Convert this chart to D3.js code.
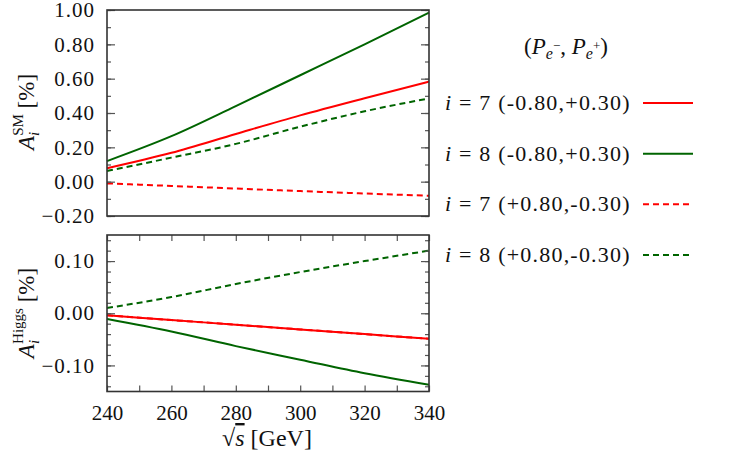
<!DOCTYPE html>
<html>
<head>
<meta charset="utf-8">
<script src="https://cdn.jsdelivr.net/npm/d3@7"></script>
<style>
  body { margin: 0; background: #fff; }
  svg text { font-family: "Liberation Serif", "Times New Roman", "DejaVu Serif", serif !important; }
</style>
</head>
<body>
<div id="chart"></div>
<script>
// sqrt(s) in GeV
let energies = [240, 260, 280, 300, 320, 340];

// A_i^SM [%]
let smI7Minus = [0.078, 0.168, 0.278, 0.386, 0.486, 0.583];   // i=7 (-0.80,+0.30)
let smI8Minus = [0.12, 0.265, 0.44, 0.62, 0.80, 0.985];       // i=8 (-0.80,+0.30)
let smI7Plus  = [-0.01, -0.025, -0.04, -0.055, -0.069, -0.082]; // i=7 (+0.80,-0.30)
let smI8Plus  = [0.062, 0.14, 0.22, 0.32, 0.41, 0.485];       // i=8 (+0.80,-0.30)

// A_i^Higgs [%]
let hI7Minus = [-0.004, -0.013, -0.022, -0.031, -0.040, -0.049];
let hI8Minus = [-0.011, -0.035, -0.063, -0.089, -0.115, -0.137];
let hI7Plus  = [-0.004, -0.013, -0.022, -0.031, -0.040, -0.049];
let hI8Plus  = [0.01, 0.031, 0.056, 0.079, 0.10, 0.12];

let legendLabels = ["(-0.80,+0.30)", "(-0.80,+0.30)", "(+0.80,-0.30)", "(+0.80,-0.30)"];
let legendIndex = [7, 8, 7, 8];

let xTicks = [240, 260, 280, 300, 320, 340];
let smTicks = [-0.2, 0, 0.2, 0.4, 0.6, 0.8, 1.0];
let hTicks = [-0.1, 0, 0.1];

let width = 750, height = 450;
let left = 107, right = 429;
let red = "#ff0000", green = "#006400";

let svg = d3.select("#chart").append("svg")
  .attr("width", width).attr("height", height);

let x = d3.scaleLinear().domain([240, 340]).range([left, right]);
let ySM = d3.scaleLinear().domain([-0.2, 1.0]).range([216, 10]);
let yH = d3.scaleLinear().domain([-0.15, 0.15]).range([391.5, 235]);

// drawn in this order; legend uses legendOrder
let series = [
  { color: red, dash: "6,4", sm: smI7Plus, h: hI7Plus },
  { color: green, dash: null, sm: smI8Minus, h: hI8Minus },
  { color: red, dash: null, sm: smI7Minus, h: hI7Minus },
  { color: green, dash: "6,4", sm: smI8Plus, h: hI8Plus }
];
let legendOrder = [2, 1, 0, 3];

function drawPanel(y, key, major, minorStep, withX) {
  let g = svg.append("g");
  let [y0, y1] = y.domain();
  let minor = d3.range(Math.ceil(y0 / minorStep - 1e-6), Math.floor(y1 / minorStep + 1e-6) + 1).map(k => k * minorStep);

  let line = d3.line().x((d, i) => x(energies[i])).y(d => y(d)).curve(d3.curveMonotoneX);
  g.selectAll("path.series")
    .data(series)
    .enter().append("path")
    .attr("class", "series")
    .attr("d", d => line(d[key]))
    .attr("fill", "none")
    .attr("stroke", d => d.color)
    .attr("stroke-width", 2)
    .attr("stroke-dasharray", d => d.dash);

  g.append("g").attr("transform", `translate(${left},0)`)
    .call(d3.axisLeft(y).tickValues(minor).tickSize(-4).tickFormat(""));
  g.append("g").attr("transform", `translate(${right},0)`)
    .call(d3.axisRight(y).tickValues(minor).tickSize(-4).tickFormat(""));
  g.append("g").attr("class", "ylabels").attr("transform", `translate(${left},0)`)
    .call(d3.axisLeft(y).tickValues(major).tickSize(-8).tickPadding(12).tickFormat(d3.format(".2f")));
  g.append("g").attr("transform", `translate(${right},0)`)
    .call(d3.axisRight(y).tickValues(major).tickSize(-8).tickFormat(""));

  if (withX) {
    let xmin = d3.range(240, 341, 10);
    g.append("g").attr("transform", `translate(0,${y.range()[0]})`)
      .call(d3.axisBottom(x).tickValues(xmin).tickSize(-6).tickPadding(14)
        .tickFormat(d => xTicks.includes(d) ? d : ""));
    g.append("g").attr("transform", `translate(0,${y.range()[1]})`)
      .call(d3.axisTop(x).tickValues(xmin).tickSize(-6).tickFormat(""));
  }

  g.selectAll(".domain").attr("stroke", "none");
  g.selectAll(".tick line").attr("stroke", "#555").attr("stroke-width", 1.2);
  g.selectAll(".tick text").attr("fill", "#111").attr("font-size", 21);
  g.selectAll(".ylabels .tick text").attr("letter-spacing", 1);

  g.append("rect")
    .attr("x", left).attr("y", y.range()[1])
    .attr("width", right - left).attr("height", y.range()[0] - y.range()[1])
    .attr("fill", "none").attr("stroke", "#333").attr("stroke-width", 1.6);
  return g;
}

drawPanel(ySM, "sm", smTicks, 0.1, false);
drawPanel(yH, "h", hTicks, 0.02, true);

// y axis titles
function yTitle(cx, cy, sup) {
  let t = svg.append("text")
    .attr("transform", `translate(${cx},${cy}) rotate(-90)`)
    .attr("text-anchor", "middle")
    .attr("font-size", 23).attr("fill", "#111");
  t.append("tspan").style("font-style", "italic").text("A");
  t.append("tspan").style("font-style", "italic").attr("font-size", 15).attr("dy", 5).text("i");
  t.append("tspan").attr("font-size", 15).attr("dx", -4).attr("dy", -16).text(sup);
  t.append("tspan").attr("dy", 11).text(" [%]");
}
yTitle(34, 112, "SM");
yTitle(34, 313, "Higgs");

// x axis title
let xt = svg.append("text")
  .attr("x", 267).attr("y", 446)
  .attr("text-anchor", "middle")
  .attr("font-size", 24).attr("fill", "#111");
xt.append("tspan").text("\u221A");
xt.append("tspan").style("font-style", "italic").style("text-decoration", "overline").text("s");
xt.append("tspan").text(" [GeV]");

// legend
let lg = svg.append("g");
let title = lg.append("text").attr("x", 566).attr("y", 54).attr("text-anchor", "middle")
  .attr("font-size", 23).attr("fill", "#111");
title.append("tspan").text("(");
title.append("tspan").style("font-style", "italic").text("P");
title.append("tspan").style("font-style", "italic").attr("font-size", 16).attr("dy", 5).text("e");
title.append("tspan").attr("font-size", 13).attr("dy", -9).text("\u2212");
title.append("tspan").attr("dy", 4).text(", ");
title.append("tspan").style("font-style", "italic").text("P");
title.append("tspan").style("font-style", "italic").attr("font-size", 16).attr("dy", 5).text("e");
title.append("tspan").attr("font-size", 13).attr("dy", -9).text("+");
title.append("tspan").attr("dy", 4).text(")");

let rowY = d3.scaleLinear().domain([0, 3]).range([103, 255]);
legendOrder.forEach((si, k) => {
  let s = series[si];
  let row = lg.append("g").attr("transform", `translate(0,${rowY(k)})`);
  let t = row.append("text").attr("x", 445).attr("y", 7)
    .attr("font-size", 22).attr("letter-spacing", 1.2).attr("fill", "#111");
  t.append("tspan").style("font-style", "italic").text("i");
  t.append("tspan").text(" = " + legendIndex[k] + " " + legendLabels[k]);
  row.append("line").attr("x1", 643).attr("x2", 693).attr("y1", 0).attr("y2", 0)
    .attr("stroke", s.color).attr("stroke-width", 2)
    .attr("stroke-dasharray", s.dash);
});
</script>
</body>
</html>
